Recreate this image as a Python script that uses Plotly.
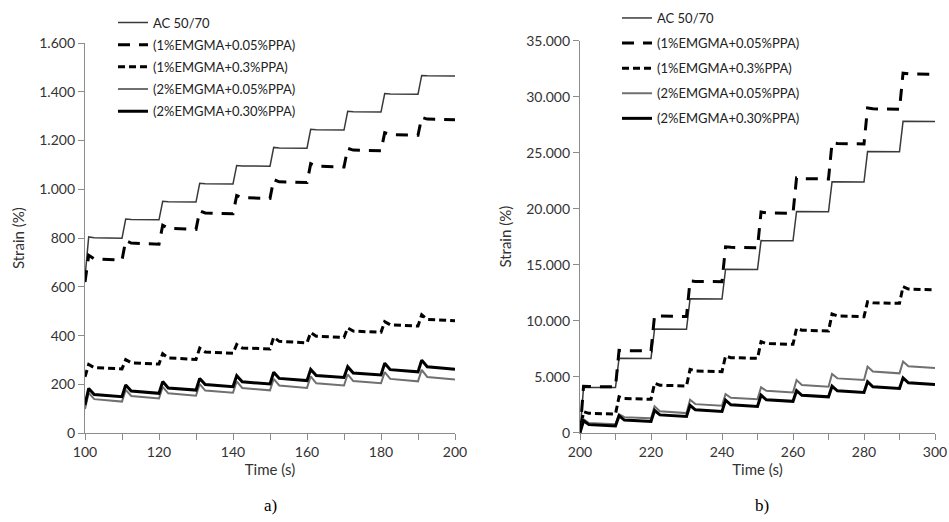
import plotly.graph_objects as go

W, H = 949, 522

series_names = ["AC 50/70", "(1%EMGMA+0.05%PPA)", "(1%EMGMA+0.3%PPA)",
                "(2%EMGMA+0.05%PPA)", "(2%EMGMA+0.30%PPA)"]

# ---- panel a) : 100-200 s, cycle start times every 10 s ----
a_t_start = 100
a_start = [640, 620, 232, 100, 116]
a_peak = [
    [805, 878, 951, 1025, 1098, 1172, 1246, 1320, 1393, 1467],
    [730, 790, 853, 912, 975, 1040, 1105, 1168, 1232, 1295],
    [282, 302, 326, 349, 364, 394, 413, 432, 458, 486],
    [166, 178, 190, 202, 213, 223, 233, 242, 251, 260],
    [184, 198, 212, 225, 236, 250, 262, 273, 287, 300],
]
a_mid = [
    [802, 876, 949, 1023, 1096, 1170, 1244, 1318, 1391, 1466],
    [715, 780, 840, 903, 966, 1031, 1095, 1161, 1225, 1288],
    [269, 289, 309, 333, 350, 377, 398, 419, 445, 467],
    [140, 153, 164, 175, 186, 196, 205, 214, 223, 231],
    [159, 173, 186, 200, 211, 225, 237, 247, 261, 273],
]
a_end = [
    [800, 875, 948, 1022, 1095, 1169, 1243, 1317, 1390, 1465],
    [710, 775, 836, 900, 963, 1028, 1092, 1158, 1222, 1285],
    [264, 284, 303, 328, 346, 371, 393, 414, 440, 461],
    [130, 143, 154, 166, 176, 186, 196, 205, 213, 221],
    [150, 164, 177, 191, 202, 216, 229, 239, 252, 263],
]

# ---- panel b) : 200-300 s ----
b_t_start = 200
b_start = [0, 0, 0, 0, 0]
b_peak = [
    [4050, 6650, 9250, 11950, 14600, 17150, 19750, 22400, 25100, 27800],
    [4150, 7350, 10450, 13550, 16600, 19700, 22750, 25900, 29000, 32100],
    [1880, 3210, 4410, 5660, 6850, 8130, 9320, 10600, 11700, 13040],
    [1200, 1650, 2350, 2950, 3450, 4050, 4700, 5250, 5900, 6350],
    [1070, 1520, 2000, 2450, 2900, 3350, 3750, 4150, 4550, 4900],
]
b_mid = [
    [4040, 6640, 9240, 11940, 14590, 17140, 19740, 22390, 25090, 27790],
    [4120, 7320, 10410, 13510, 16550, 19630, 22690, 25820, 28920, 32040],
    [1730, 3050, 4240, 5510, 6700, 7960, 9150, 10430, 11600, 12830],
    [870, 1390, 1910, 2550, 3120, 3740, 4260, 4850, 5470, 5940],
    [720, 1130, 1590, 2040, 2490, 2940, 3340, 3740, 4100, 4460],
]
b_end = [
    [4030, 6630, 9230, 11930, 14580, 17130, 19730, 22380, 25080, 27780],
    [4100, 7300, 10380, 13480, 16520, 19590, 22650, 25780, 28880, 32000],
    [1670, 2980, 4170, 5450, 6640, 7890, 9080, 10360, 11550, 12750],
    [760, 1280, 1750, 2400, 2980, 3600, 4100, 4700, 5300, 5780],
    [600, 1000, 1450, 1900, 2350, 2800, 3200, 3600, 3950, 4300],
]

a_x_ticks = [100, 120, 140, 160, 180, 200]
b_x_ticks = [200, 220, 240, 260, 280, 300]
a_y_ticks = [0, 200, 400, 600, 800, 1000, 1200, 1400, 1600]
a_y_labels = ["0", "200", "400", "600", "800", "1.000", "1.200", "1.400", "1.600"]
b_y_ticks = [0, 5000, 10000, 15000, 20000, 25000, 30000, 35000]
b_y_labels = ["0", "5.000", "10.000", "15.000", "20.000", "25.000", "30.000", "35.000"]

styles = [
    dict(color="#3a3a3a", width=1.5, dash="solid"),
    dict(color="#000000", width=3, dash="12px,9px"),
    dict(color="#000000", width=3, dash="7px,4px"),
    dict(color="#707070", width=2, dash="solid"),
    dict(color="#000000", width=3, dash="solid"),
]


def build(t_start, start, peak, mid, end):
    xs, ys = [t_start], [start]
    for k in range(len(peak)):
        t0 = t_start + 10 * k
        xs += [t0 + 1, t0 + 2.5, t0 + 10]
        ys += [peak[k], mid[k], end[k]]
    return xs, ys


fig = go.Figure()
for i, name in enumerate(series_names):
    xs, ys = build(a_t_start, a_start[i], a_peak[i], a_mid[i], a_end[i])
    fig.add_trace(go.Scatter(x=xs, y=ys, mode="lines", name=name, line=styles[i],
                             xaxis="x", yaxis="y", legend="legend",
                             legendgroup="a%d" % i))
for i, name in enumerate(series_names):
    xs, ys = build(b_t_start, b_start[i], b_peak[i], b_mid[i], b_end[i])
    fig.add_trace(go.Scatter(x=xs, y=ys, mode="lines", name=name, line=styles[i],
                             xaxis="x2", yaxis="y2", legend="legend2",
                             legendgroup="b%d" % i))

axis_col = "#8c8c8c"
tick_font = dict(family="Lato, Calibri, sans-serif", size=14, color="#333333")
title_font = dict(family="Lato, Calibri, sans-serif", size=15, color="#333333")


def xaxis(domain, rng, ticks, anchor):
    return dict(domain=domain, range=rng, anchor=anchor, showgrid=False, zeroline=False,
                automargin=False,
                showline=True, linecolor=axis_col, linewidth=1.3,
                ticks="outside", ticklen=6, tickcolor=axis_col,
                tickvals=ticks, ticktext=[str(t) for t in ticks], tickfont=tick_font,
                minor=dict(dtick=10, ticks="outside", ticklen=6, tickcolor=axis_col),
                title=dict(text="Time (s)", font=title_font, standoff=0))


def yaxis(domain, rng, ticks, labels, anchor):
    return dict(domain=domain, range=rng, anchor=anchor, showgrid=False, zeroline=False,
                automargin=False,
                showline=True, linecolor=axis_col, linewidth=1.3,
                ticks="outside", ticklen=6, tickcolor=axis_col,
                tickvals=ticks, ticktext=labels, tickfont=tick_font,
                title=dict(text="Strain (%)", font=title_font, standoff=10))


legend_font = dict(family="Lato, Calibri, sans-serif", size=13, color="#222222")

fig.update_layout(
    width=W, height=H,
    margin=dict(l=0, r=0, t=0, b=0, autoexpand=False),
    paper_bgcolor="white", plot_bgcolor="white",
    xaxis=xaxis([85 / W, 455 / W], [100, 200], a_x_ticks, "y"),
    yaxis=yaxis([1 - 433.3 / H, 1 - 43 / H], [0, 1600], a_y_ticks, a_y_labels, "x"),
    xaxis2=xaxis([580 / W, 935 / W], [200, 300], b_x_ticks, "y2"),
    yaxis2=yaxis([1 - 432.7 / H, 1 - 40.7 / H], [0, 35000], b_y_ticks, b_y_labels, "x2"),
    legend=dict(x=113 / W, y=1 - 7.5 / H, xanchor="left", yanchor="top",
                bgcolor="rgba(0,0,0,0)", tracegroupgap=2.3, font=legend_font),
    legend2=dict(x=617 / W, y=1 - 3 / H, xanchor="left", yanchor="top",
                 bgcolor="rgba(0,0,0,0)", tracegroupgap=5.2, font=legend_font),
    annotations=[
        dict(text="a)", x=270 / W, y=1 - 505 / H, xref="paper", yref="paper",
             xanchor="center", yanchor="middle",
             showarrow=False, font=dict(family="Liberation Serif, serif", size=17, color="#000")),
        dict(text="b)", x=762 / W, y=1 - 505 / H, xref="paper", yref="paper",
             xanchor="center", yanchor="middle",
             showarrow=False, font=dict(family="Liberation Serif, serif", size=17, color="#000")),
    ],
)

fig.write_html("out.html", config={"displayModeBar": False},
               post_script="document.body.style.margin='0';document.body.style.padding='0';")
